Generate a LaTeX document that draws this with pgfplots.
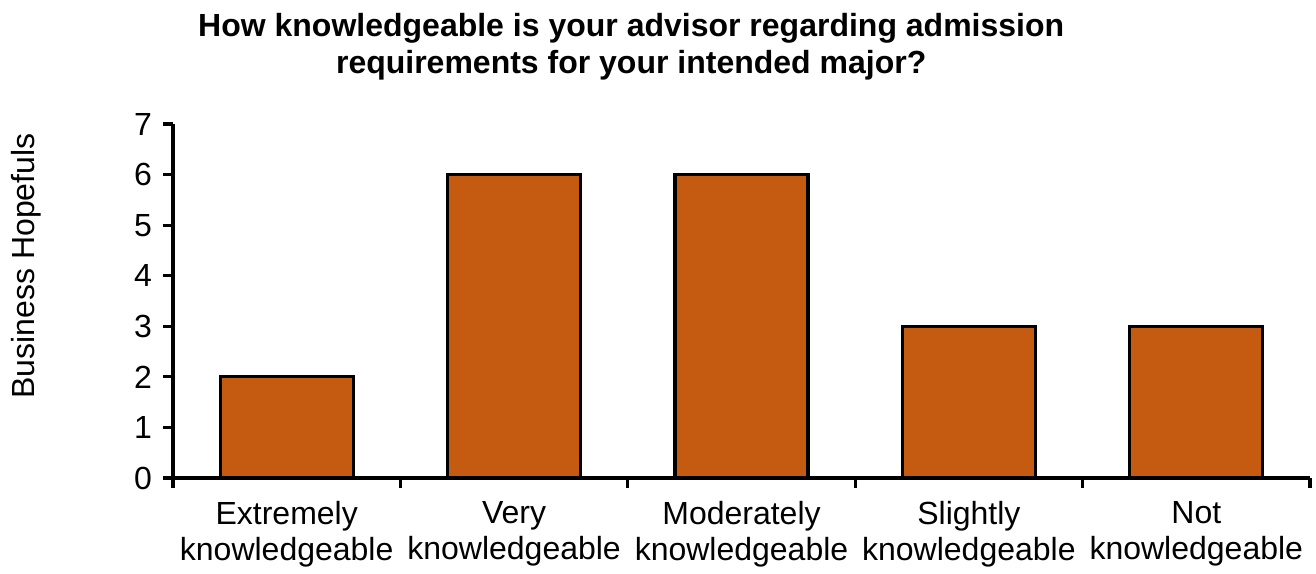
\documentclass[border=0pt]{standalone}
\usepackage{pgfplots}
\pgfplotsset{compat=1.18}
\usetikzlibrary{calc}
\usepackage{fontspec}
\setmainfont{Liberation Sans}
\definecolor{barorange}{RGB}{197,90,17}
\begin{document}
\begin{tikzpicture}
\begin{axis}[
  name=a,
  scale only axis,
  width=568.5pt, height=177pt,
  xmin=-0.5, xmax=4.5, ymin=0, ymax=7,
  axis x line=bottom, axis y line=left,
  axis line style={-, line width=1.6pt, black},
  xtick={0,1,2,3,4},
  xticklabels={Extremely\\knowledgeable, Very\\knowledgeable, Moderately\\knowledgeable, Slightly\\knowledgeable, Not\\knowledgeable},
  minor xtick={-0.5,0.5,1.5,2.5,3.5,4.5},
  major x tick style={draw=none},
  minor tick length=5pt,
  major tick length=5pt,
  tick align=outside,
  tick style={line width=1.6pt, black},
  ytick={0,1,...,7},
  xticklabel style={align=center, font=\fontsize{16}{18}\selectfont, yshift=-3pt},
  yticklabel style={font=\fontsize{16}{17}\selectfont, xshift=-2pt},
  /pgf/number format/assume math mode=true,
  clip=false,
]
\addplot[ybar, bar width=0.585, fill=barorange, draw=black, line width=1.6pt]
  coordinates {(0,2) (1,6) (2,6) (3,3) (4,3)};
\end{axis}
\node[font=\bfseries\fontsize{16}{18.5}\selectfont, align=center] at ($(a.north west)!0.403!(a.north east)+(0,38.75pt)$) {How knowledgeable is your advisor regarding admission\\requirements for your intended major?};
\node[font=\fontsize{16}{17}\selectfont, rotate=90] at ($(a.south west)+(-73.5pt,106pt)$) {Business Hopefuls};
\path ([xshift=-86.5pt,yshift=-46.5pt]a.south west) rectangle ([xshift=3pt,yshift=62pt]a.north east);
\end{tikzpicture}
\end{document}
